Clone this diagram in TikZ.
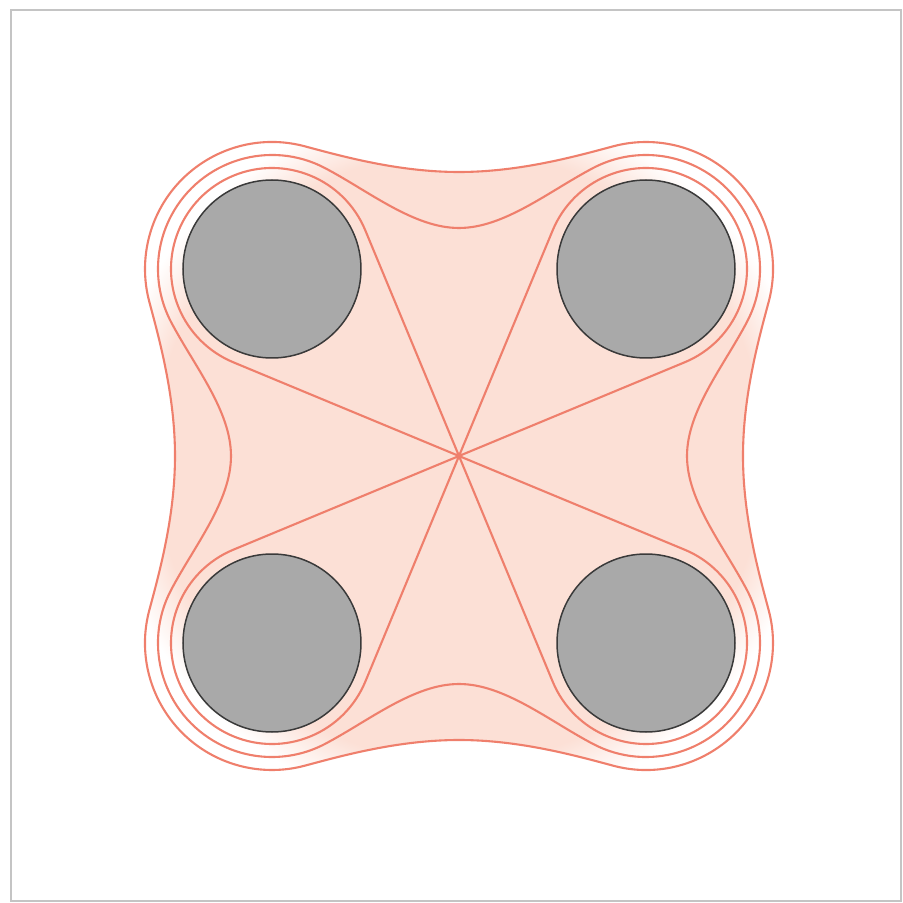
\documentclass[tikz,border=0pt]{standalone}
\usepackage{tikz}
\usetikzlibrary{calc}
\definecolor{fieldpink}{HTML}{FCE0D6}
\definecolor{fieldline}{HTML}{EF7F6C}
\definecolor{rodfill}{HTML}{A9A9A9}
\definecolor{rodline}{HTML}{3A3A3A}
\definecolor{framegray}{HTML}{C4C4C4}
\pgfdeclareradialshading{fieldfade}{\pgfpoint{0bp}{0bp}}{color(0bp)=(fieldpink); color(21.5bp)=(fieldpink); color(25bp)=(white); color(50bp)=(white)}

\begin{document}
\begin{tikzpicture}[x=1bp, y=1bp,
 contour/.style={draw=fieldline, line width=2.1bp, line join=round},
 rod/.style={draw=rodline, fill=rodfill, line width=1.5bp}]
\useasboundingbox (-459,-447) rectangle (444,456);
\draw[framegray, line width=1.6bp] (-448,-445) rectangle (442,446);
\coordinate (o) at (0,0);
\coordinate (ctl) at (-187,187);
\coordinate (cbl) at (-187,-187);
\coordinate (cbr) at (187,-187);
\coordinate (ctr) at (187,187);

\path[save path=\outerring] (0,284)
 .. controls (-60,284) and (-115.5,299.3) .. ($(ctl)+(75:127)$) arc[start angle=75, end angle=195, radius=127]
 .. controls (-299.3,115.5) and (-284,60) .. (-284,0)
 .. controls (-284,-60) and (-299.3,-115.5) .. ($(cbl)+(165:127)$) arc[start angle=165, end angle=285, radius=127]
 .. controls (-115.5,-299.3) and (-60,-284) .. (0,-284)
 .. controls (60,-284) and (115.5,-299.3) .. ($(cbr)+(255:127)$) arc[start angle=255, end angle=375, radius=127]
 .. controls (299.3,-115.5) and (284,-60) .. (284,0)
 .. controls (284,60) and (299.3,115.5) .. ($(ctr)+(345:127)$) arc[start angle=345, end angle=465, radius=127]
 .. controls (115.5,299.3) and (60,284) .. (0,284) -- cycle;

\begin{scope}
\clip[use path=\outerring];
\shade[shading=fieldfade] (o) circle (355);
\end{scope}
\draw[contour, use path=\outerring];

\draw[contour] (0,228)
 .. controls (-45,228) and (-89.4,264.3) .. ($(ctl)+(62:114)$) arc[start angle=62, end angle=208, radius=114]
 .. controls (-264.3,89.4) and (-228,45) .. (-228,0)
 .. controls (-228,-45) and (-264.3,-89.4) .. ($(cbl)+(152:114)$) arc[start angle=152, end angle=298, radius=114]
 .. controls (-89.4,-264.3) and (-45,-228) .. (0,-228)
 .. controls (45,-228) and (89.4,-264.3) .. ($(cbr)+(242:114)$) arc[start angle=242, end angle=388, radius=114]
 .. controls (264.3,-89.4) and (228,-45) .. (228,0)
 .. controls (228,45) and (264.3,89.4) .. ($(ctr)+(332:114)$) arc[start angle=332, end angle=478, radius=114]
 .. controls (89.4,264.3) and (45,228) .. (0,228) -- cycle;

\foreach \c/\p in {ctl/135, cbl/225, cbr/315, ctr/45}
 \draw[contour] (o) -- ($(\c)+({\p-112.45}:101)$) arc[start angle=\p-112.45, delta angle=224.9, radius=101] -- cycle;

\foreach \c in {ctl, cbl, cbr, ctr}
 \draw[rod] (\c) circle (89);
\end{tikzpicture}
\end{document}
